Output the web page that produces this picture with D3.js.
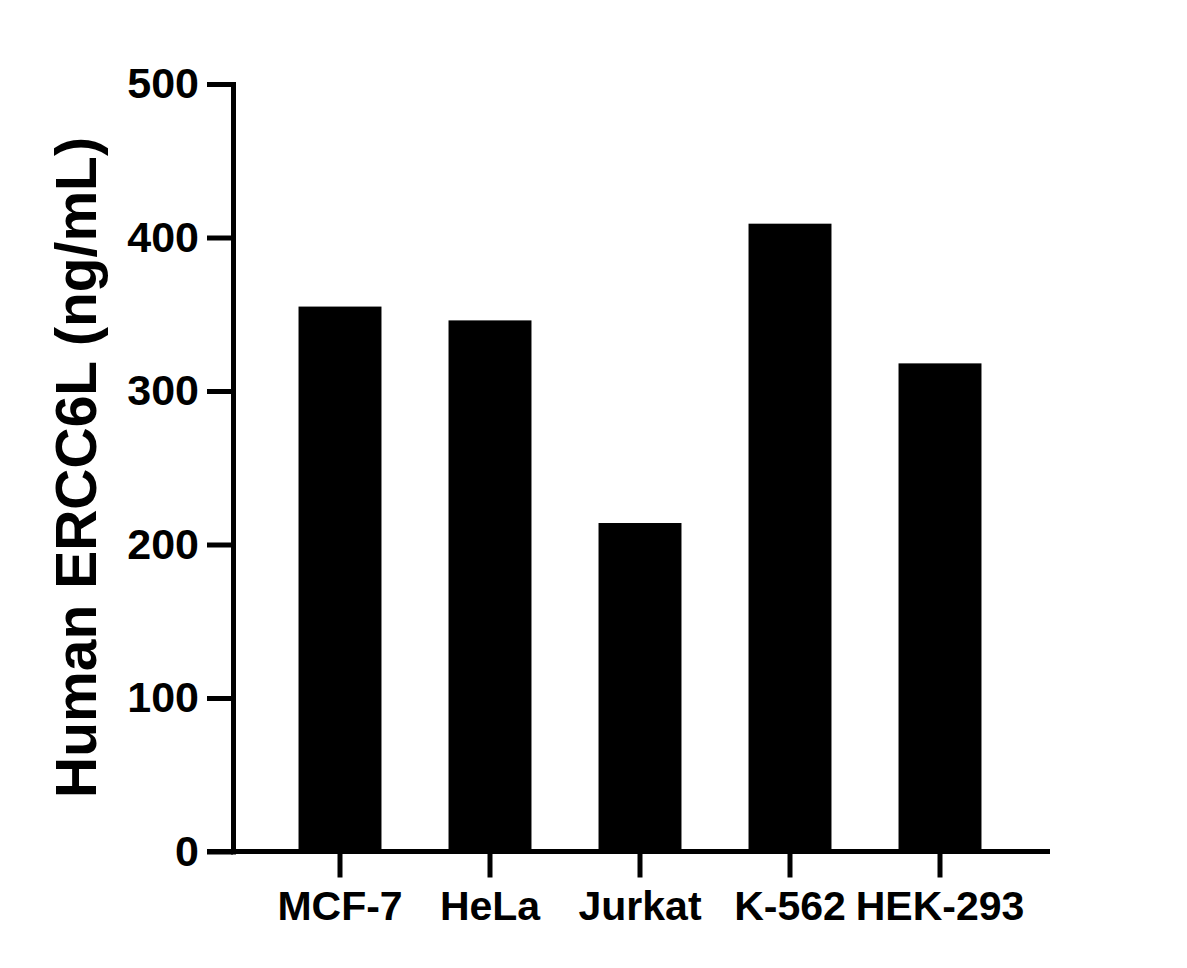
<!DOCTYPE html>
<html>
<head>
<meta charset="utf-8">
<script src="https://cdn.jsdelivr.net/npm/d3@7"></script>
<style>
 body { margin: 0; background: #fff; }
 svg { display: block; }
 text { font-family: "Liberation Sans", Arial, sans-serif; font-weight: bold; fill: #000; }
</style>
</head>
<body>
<svg id="chart"></svg>
<script>
const cellLines = ["MCF-7", "HeLa", "Jurkat", "K-562", "HEK-293"];
const ercc6l = [355, 346, 214, 409, 318];
const yTicks = [0, 100, 200, 300, 400, 500];
const yLabel = "Human ERCC6L (ng/mL)";

const width = 1187, height = 968;
const svg = d3.select("#chart").attr("width", width).attr("height", height);

const x = d3.scaleBand()
 .domain(cellLines)
 .range([265, 1015])
 .paddingInner(0.447)
 .paddingOuter(0.2235);

const y = d3.scaleLinear().domain([0, 500]).range([851.5, 84]);

const axisX = 233; // y axis position
const tick = 26;

// bars
svg.append("g")
 .selectAll("rect")
 .data(cellLines)
 .enter()
 .append("rect")
 .attr("x", d => x(d))
 .attr("width", x.bandwidth())
 .attr("y", (d, i) => y(ercc6l[i]))
 .attr("height", (d, i) => y(0) - y(ercc6l[i]))
 .attr("fill", "#000");

// y axis
const gy = svg.append("g")
 .attr("transform", `translate(${axisX},0)`)
 .call(d3.axisLeft(y).tickValues(yTicks).tickSize(tick).tickSizeOuter(0).tickPadding(8));
gy.select(".domain").attr("stroke-width", 5).attr("stroke-linecap", "square");
gy.selectAll(".tick line").attr("stroke-width", 5);
gy.selectAll(".tick text").style("font-size", "43px");

// x axis
const gx = svg.append("g")
 .attr("transform", `translate(0,${y(0)})`)
 .call(d3.axisBottom(x).tickSize(tick).tickSizeOuter(0).tickPadding(13));
gx.select(".domain").remove();
gx.append("line")
 .attr("x1", axisX - tick).attr("x2", 1050)
 .attr("stroke", "#000").attr("stroke-width", 5);
gx.selectAll(".tick line").attr("stroke-width", 5);
gx.selectAll(".tick text").style("font-size", "41px");

// y label
svg.append("text")
 .attr("transform", `translate(96,${(795 + 140) / 2}) rotate(-90)`)
 .attr("text-anchor", "middle")
 .style("font-size", "57px")
 .text(yLabel);
</script>
</body>
</html>
